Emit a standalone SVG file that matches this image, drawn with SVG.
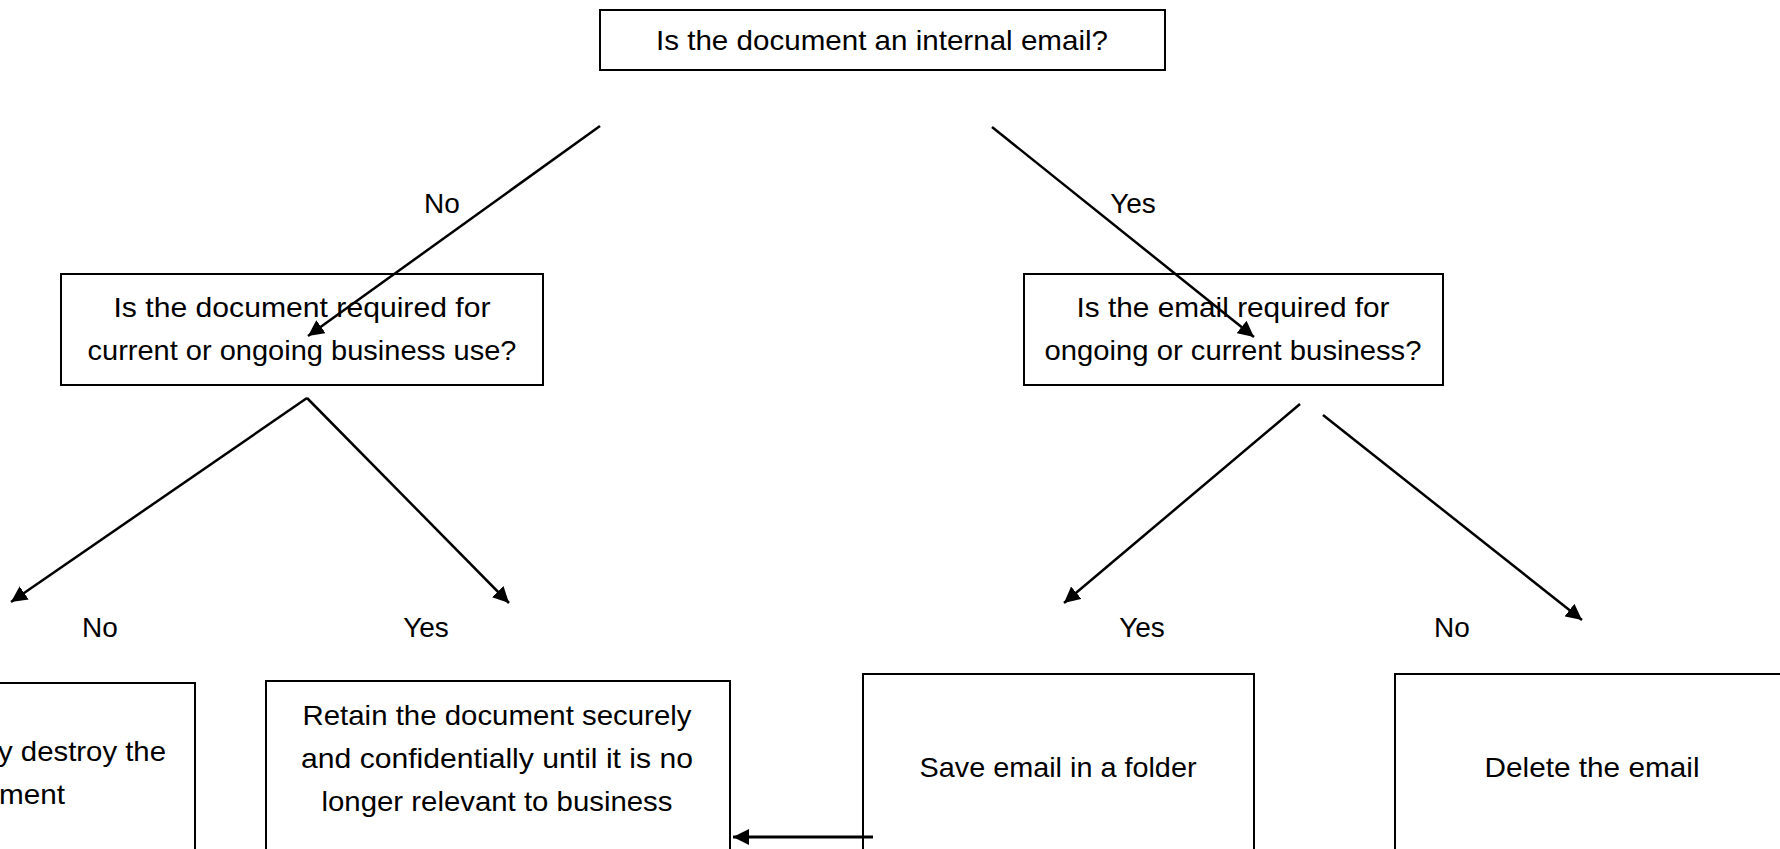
<svg xmlns="http://www.w3.org/2000/svg" width="1780" height="849" viewBox="0 0 1780 849">
<style>
.box{fill:#fff;stroke:#000;stroke-width:2}
.t{font-family:"Liberation Sans",Arial,sans-serif;font-size:28px;fill:#000;text-anchor:middle}
.e{text-anchor:end}
.c{stroke:#000;stroke-width:2.5;fill:none;marker-end:url(#ah)}
</style>
<defs>
<marker id="ah" markerUnits="userSpaceOnUse" markerWidth="18" markerHeight="16" refX="16" refY="8" orient="auto">
<path d="M0,0 L16,8 L0,16 Z" fill="#000"/>
</marker>
</defs>
<rect width="1780" height="849" fill="#fff"/>
<g id="n-internal"><rect class="box" x="600" y="10" width="565" height="60"/><text class="t" x="882" y="50" textLength="452" lengthAdjust="spacingAndGlyphs">Is the document an internal email?</text></g>
<g id="n-docreq"><rect class="box" x="61" y="274" width="482" height="111"/><text class="t" x="302" y="317" textLength="377" lengthAdjust="spacingAndGlyphs">Is the document required for</text><text class="t" x="302" y="360" textLength="429" lengthAdjust="spacingAndGlyphs">current or ongoing business use?</text></g>
<g id="n-emailreq"><rect class="box" x="1024" y="274" width="419" height="111"/><text class="t" x="1233" y="317" textLength="313" lengthAdjust="spacingAndGlyphs">Is the email required for</text><text class="t" x="1233" y="360" textLength="377" lengthAdjust="spacingAndGlyphs">ongoing or current business?</text></g>
<g id="n-destroy"><rect class="box" x="-10" y="683" width="205" height="180"/><text class="t e" x="166" y="761" textLength="168" lengthAdjust="spacingAndGlyphs">y destroy the</text><text class="t e" x="65" y="804" textLength="66" lengthAdjust="spacingAndGlyphs">ment</text></g>
<g id="n-retain"><rect class="box" x="266" y="681" width="464" height="180"/><text class="t" x="497" y="725" textLength="389" lengthAdjust="spacingAndGlyphs">Retain the document securely</text><text class="t" x="497" y="768" textLength="392" lengthAdjust="spacingAndGlyphs">and confidentially until it is no</text><text class="t" x="497" y="811" textLength="351" lengthAdjust="spacingAndGlyphs">longer relevant to business</text></g>
<g id="n-save"><rect class="box" x="863" y="674" width="391" height="190"/><text class="t" x="1058" y="777" textLength="277" lengthAdjust="spacingAndGlyphs">Save email in a folder</text></g>
<g id="n-delete"><rect class="box" x="1395" y="674" width="400" height="190"/><text class="t" x="1592" y="777" textLength="215" lengthAdjust="spacingAndGlyphs">Delete the email</text></g>
<g id="connectors">
<line class="c" x1="600" y1="126" x2="308" y2="336"/>
<line class="c" x1="992" y1="127" x2="1254" y2="337"/>
<line class="c" x1="307" y1="398" x2="11" y2="602"/>
<line class="c" x1="307" y1="398" x2="509" y2="603"/>
<line class="c" x1="1300" y1="404" x2="1064" y2="603"/>
<line class="c" x1="1323" y1="415" x2="1582" y2="620"/>
<line class="c" x1="873" y1="837" x2="733" y2="837" style="stroke-width:3"/>
<text class="t" x="442" y="213">No</text>
<text class="t" x="1133" y="213">Yes</text>
<text class="t" x="100" y="637">No</text>
<text class="t" x="426" y="637">Yes</text>
<text class="t" x="1142" y="637">Yes</text>
<text class="t" x="1452" y="637">No</text>
</g>
</svg>
